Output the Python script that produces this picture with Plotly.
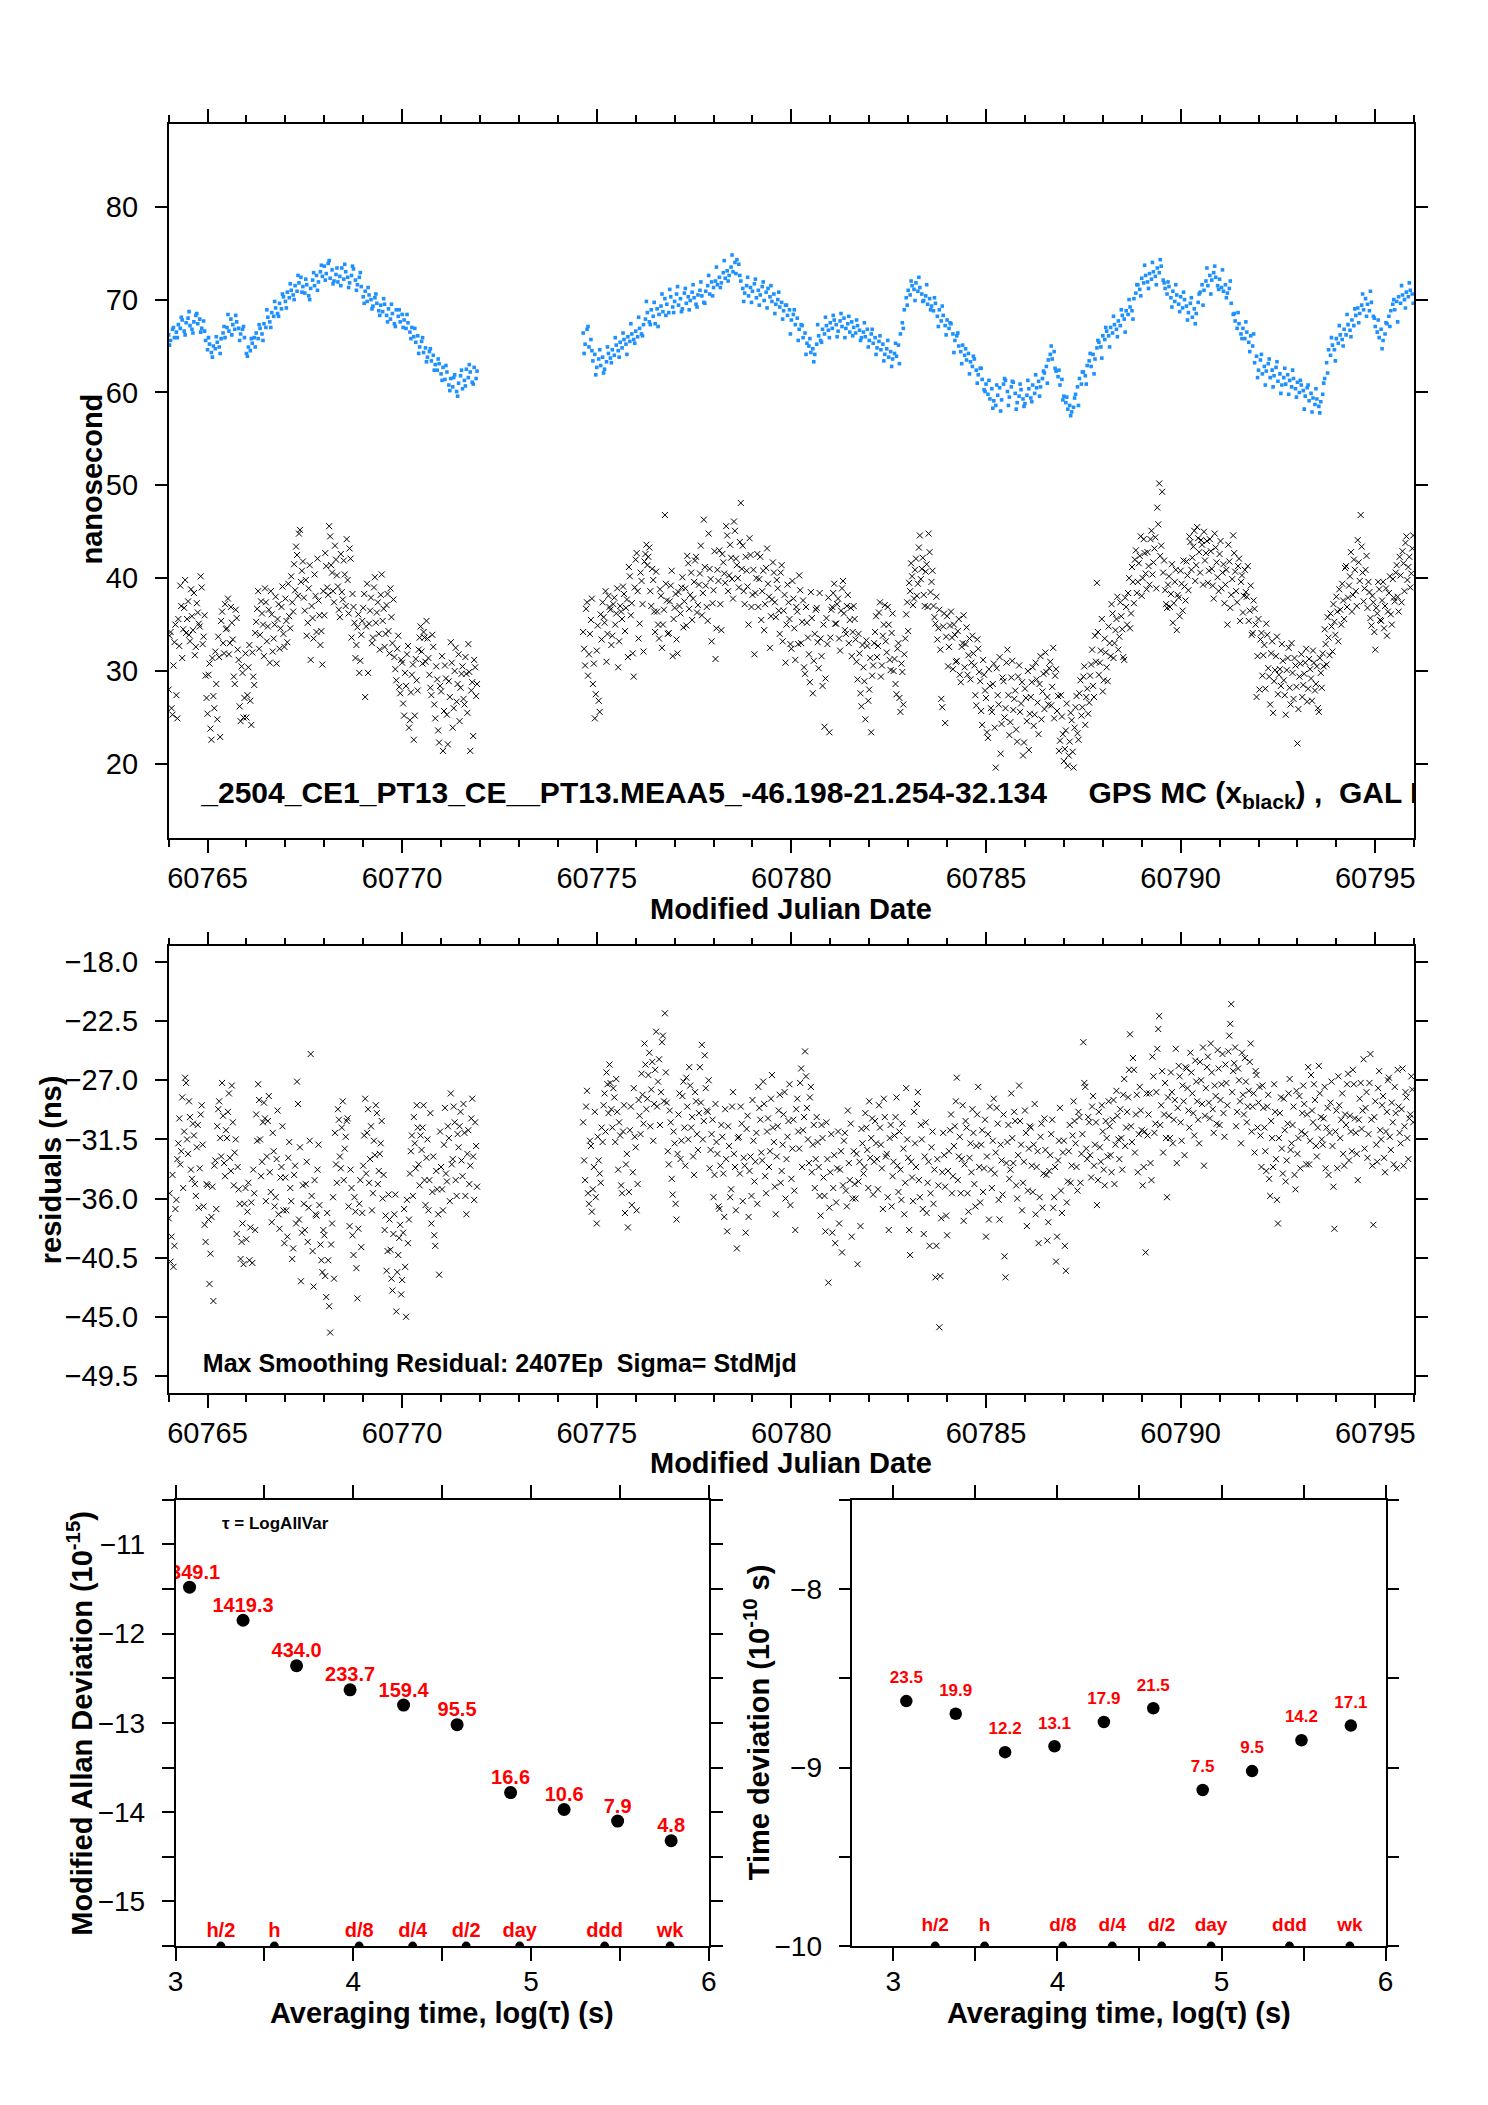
import numpy as np
import plotly.graph_objects as go

FONT = "Liberation Sans, Arial, Helvetica, sans-serif"

# ---------------- data: time series (MJD sampled on a regular grid) ----------------
STEP = 0.05          # main sampling interval (days)
STEP_B2 = 0.10       # interval of the second blue pass
OFFSET2 = 0.025      # second pass epochs are shifted by this (days)
SEG1_START = 60764.00
SEG2_START = 60774.65

gps_blue_seg1 = [
    66.2, 65.6, 66.8, 65.9, 66.5, 67.3, 66.9, 67.8, 66.6, 67.5,
    68.0, 67.2, 66.8, 67.6, 68.3, 67.4, 67.9, 66.9, 67.7, 65.6,
    64.6, 65.2, 64.3, 65.0, 64.7, 65.4, 64.9, 65.8, 66.4, 65.9,
    67.0, 66.6, 67.9, 67.3, 66.8, 67.6, 66.9, 66.3, 66.8, 65.9,
    64.2, 64.9, 64.5, 65.3, 65.9, 66.4, 65.8, 66.9, 66.3, 67.4,
    67.0, 68.1, 67.6, 68.6, 68.2, 69.1, 68.5, 69.6, 69.0, 70.3,
    69.8, 70.8, 70.2, 71.0, 70.5, 71.5, 70.9, 71.8, 72.4, 71.4,
    70.7, 71.6, 70.4, 71.2, 72.1, 71.5, 72.6, 71.9, 73.0, 72.5,
    73.6, 72.8, 73.9, 72.3, 73.2, 72.0, 72.7, 71.9, 72.5, 73.4,
    72.2, 73.0, 72.4, 71.8, 72.6, 73.3, 72.1, 71.6, 72.4, 71.4,
    70.3, 70.9, 69.8, 70.5, 70.0, 69.3, 70.2, 69.6, 68.8, 69.4,
    68.7, 69.5, 68.3, 69.0, 67.9, 68.5, 67.4, 68.9, 68.2, 67.6,
    68.4, 67.8, 66.9, 67.5, 66.5, 67.0, 66.0, 65.4, 66.1, 64.9,
    65.5, 64.3, 64.8, 63.8, 64.4, 63.4, 64.0, 63.0, 62.4, 63.1,
    62.0, 62.7, 61.4, 62.2, 60.8, 61.5, 60.6, 61.9, 60.1, 61.0,
    61.8, 60.4, 61.3, 62.5, 61.6, 62.2, 61.1, 62.7, 61.5,
]
gps_blue_seg2 = [
    66.4, 65.2, 66.8, 64.9, 65.7, 63.4, 64.1, 62.7, 63.6, 62.9,
    63.8, 62.5, 63.3, 64.2, 63.7, 64.6, 64.0, 65.1, 64.5, 65.4,
    64.8, 65.7, 65.2, 66.0, 65.5, 66.3, 65.7, 66.6, 66.0, 66.9,
    66.3, 67.3, 67.9, 68.6, 67.6, 68.9, 68.2, 67.4, 69.0, 68.4,
    69.3, 68.7, 70.1, 69.5, 68.6, 70.3, 69.2, 69.8, 70.6, 69.4,
    70.1, 69.0, 70.7, 69.6, 70.3, 69.9, 70.8, 70.2, 69.5, 70.5,
    71.0, 70.4, 69.7, 70.9, 71.5, 70.6, 71.9, 71.3, 72.0, 71.6,
    72.4, 71.8, 72.9, 72.3, 73.1, 72.6, 73.5, 73.0, 74.0, 74.3,
    73.8, 72.0, 71.2, 70.7, 71.5, 70.4, 71.3, 70.9, 71.7, 70.2,
    71.0, 70.5, 71.4, 69.9, 70.8, 71.2, 70.3, 69.8, 70.6, 69.5,
    70.0, 69.2, 69.7, 68.8, 69.4, 68.3, 68.9, 67.8, 68.4, 67.3,
    68.0, 66.8, 67.3, 65.9, 66.4, 65.3, 65.0, 64.3, 64.7, 64.1,
    65.2, 66.1, 65.6, 66.8, 66.3, 67.2, 66.7, 67.5, 66.9, 67.8,
    67.3, 66.6, 67.7, 67.1, 68.0, 66.9, 67.4, 66.5, 67.6, 67.0,
    66.4, 67.2, 66.7, 65.9, 66.5, 66.0, 66.8, 65.6, 66.3, 65.3,
    65.9, 64.8, 65.5, 64.6, 65.2, 64.1, 64.7, 63.8, 64.4, 63.6,
    64.2, 63.9, 65.1, 66.3, 67.5, 68.9, 70.2, 71.0, 70.5, 71.5,
    71.1, 71.8, 70.9, 71.3, 70.6, 69.9, 70.4, 69.5, 70.1, 69.3,
    68.8, 69.6, 68.2, 68.9, 67.7, 68.3, 67.2, 67.8, 66.9, 67.4,
    66.3, 65.6, 66.1, 65.0, 64.4, 65.1, 64.0, 63.5, 64.2, 63.3,
    62.8, 63.6, 62.4, 61.9, 62.6, 61.4, 60.3, 60.9, 59.8, 59.3,
    60.4, 59.1, 58.6, 59.7, 60.5, 59.2, 60.9, 61.3, 60.1, 59.5,
    60.6, 61.1, 59.9, 58.9, 59.6, 60.3, 59.3, 58.8, 59.7, 60.4,
    59.4, 60.8, 59.9, 60.5, 61.2, 60.6, 61.5, 62.1, 62.8, 63.5,
    64.1, 63.6, 64.4, 62.3, 61.7, 60.8, 61.4, 59.6, 58.9, 58.2,
    58.6, 57.9, 58.4, 59.8, 60.6, 61.5, 60.9, 62.2, 61.8, 62.9,
    63.4, 62.8, 64.1, 63.6, 64.8, 65.4, 64.9, 66.1, 65.7, 66.6,
    66.1, 67.0, 66.4, 67.3, 66.8, 67.7, 67.2, 68.3, 67.9, 68.8,
    68.4, 69.2, 68.8, 70.1, 70.7, 71.6, 71.1, 72.3, 71.8, 72.6,
    71.9, 72.8, 72.2, 73.0, 72.5, 73.4, 72.9, 73.6, 72.1, 71.2,
    70.6, 71.4, 70.2, 70.9, 69.8, 70.5, 69.5, 70.3, 69.1, 70.0,
    69.3, 68.6, 69.6, 68.1, 69.0, 68.5, 69.7, 70.8, 71.6, 71.0,
    72.0, 71.5, 72.6, 72.1, 72.9, 72.4, 71.5, 72.2, 71.3, 70.9,
    71.6, 70.7, 71.2, 69.6, 68.4, 67.7, 66.9, 67.4, 66.3, 66.9,
    65.8, 66.5, 65.4, 66.1, 65.0, 63.2, 63.9, 62.4, 63.5, 62.0,
    62.8, 62.3, 63.1, 61.6, 62.4, 61.8, 62.7, 61.2, 62.0, 60.8,
    61.6, 60.9, 61.9, 61.3, 60.6, 61.5, 60.4, 61.1, 60.0, 60.8,
    60.2, 59.6, 60.5, 59.1, 59.9, 59.4, 58.7, 59.3, 58.5, 59.0,
    59.8, 61.5, 63.2, 64.6, 64.0, 65.1, 64.6, 65.8, 65.3, 66.2,
    65.7, 66.8, 66.2, 67.3, 66.7, 67.8, 67.2, 68.3, 69.1, 68.5,
    69.4, 68.9, 70.1, 69.5, 68.8, 69.7, 68.2, 67.1, 66.5, 65.9,
    66.8, 65.6, 66.3, 67.4, 68.2, 68.8, 69.5, 68.9, 69.8, 70.3,
    69.6, 70.5, 70.0, 70.8, 70.3, 71.0, 70.6,
]
gps_blue2_seg1 = [
    65.1, 67.0, 65.9, 68.1, 66.2, 68.7, 66.4, 68.5, 66.5, 66.6,
    65.9, 63.8, 66.0, 64.2, 67.1, 68.4, 66.2, 68.3, 65.6, 67.1,
    63.9, 65.8, 64.9, 67.3, 65.6, 68.9, 67.0, 69.8, 68.2, 70.6,
    69.1, 71.7, 70.0, 72.6, 70.8, 72.2, 70.0, 72.9, 71.0, 73.7,
    72.1, 74.2, 71.7, 73.4, 71.5, 73.8, 71.3, 73.6, 71.0, 72.9,
    69.6, 71.3, 69.0, 70.6, 68.3, 70.1, 67.6, 69.5, 67.1, 68.9,
    67.0, 68.4, 65.8, 66.9, 64.2, 65.9, 63.3, 64.7, 62.4, 63.6,
    61.3, 62.9, 60.2, 61.6, 59.6, 62.4, 60.7, 63.0, 60.9, 62.3,
]
gps_blue2_seg2 = [
    64.2, 67.1, 64.5, 61.9, 64.6, 62.1, 64.9, 63.2, 65.9, 63.8,
    66.4, 64.1, 67.4, 65.3, 68.1, 66.1, 69.8, 67.3, 69.7, 67.1,
    70.6, 68.3, 71.1, 68.6, 71.4, 68.7, 71.2, 68.9, 71.6, 69.2,
    71.9, 69.6, 72.6, 70.4, 73.5, 71.3, 74.2, 72.0, 74.8, 72.8,
    72.6, 69.8, 72.4, 69.7, 72.2, 69.4, 71.9, 69.1, 71.5, 68.5,
    70.8, 67.9, 69.4, 66.3, 68.9, 65.6, 67.2, 64.1, 65.8, 63.3,
    67.3, 65.4, 68.1, 65.9, 68.3, 66.0, 68.5, 65.9, 68.2, 66.1,
    67.8, 65.6, 67.5, 64.9, 66.8, 64.1, 66.1, 63.4, 65.6, 62.8,
    65.3, 63.1, 66.9, 69.4, 72.0, 69.9, 72.4, 69.8, 71.6, 68.9,
    70.2, 67.1, 69.3, 66.2, 67.5, 64.3, 66.4, 63.1, 64.7, 62.0,
    63.9, 61.0, 62.6, 60.1, 61.3, 58.3, 60.8, 58.0, 61.5, 58.6,
    61.2, 58.2, 60.9, 58.5, 61.3, 59.0, 61.9, 59.6, 62.3, 61.0,
    65.0, 62.6, 62.4, 59.2, 59.5, 57.5, 59.4, 58.6, 62.2, 60.9,
    64.2, 62.0, 65.6, 63.7, 67.0, 64.9, 68.2, 66.0, 68.9, 66.5,
    70.0, 67.9, 71.6, 70.4, 73.7, 71.2, 74.0, 71.6, 74.3, 71.8,
    71.9, 69.2, 71.6, 68.7, 70.8, 67.8, 70.2, 67.4, 70.6, 69.4,
    73.4, 70.6, 73.6, 71.1, 73.2, 70.2, 72.0, 68.5, 68.6, 65.8,
    67.6, 64.4, 66.3, 61.6, 64.1, 60.8, 63.6, 60.6, 63.3, 59.9,
    62.6, 59.8, 62.4, 59.5, 61.3, 58.2, 60.8, 57.9, 60.4, 57.8,
    61.0, 62.1, 65.9, 63.4, 67.2, 65.0, 68.4, 66.0, 69.0, 67.5,
    70.6, 68.2, 70.9, 68.0, 67.8, 64.7, 67.5, 67.1, 70.0, 67.6,
    71.5, 69.1, 71.8, 69.6,
]
gps_black_seg1 = [
    28.0, 34.2, 25.3, 33.1, 27.4, 35.6, 39.2, 31.4, 36.8, 34.1,
    37.5, 33.2, 35.9, 38.4, 32.6, 36.3, 34.8, 39.0, 33.7, 29.5,
    25.4, 30.8, 22.6, 27.3, 32.1, 24.8, 31.5, 35.4, 33.0, 37.2,
    34.6, 31.8, 36.9, 33.4, 28.6, 35.7, 31.2, 24.6, 29.8, 27.1,
    25.0, 30.4, 26.8, 32.0, 28.5, 35.3, 38.6, 33.9, 36.2, 31.6,
    37.4, 34.8, 30.9, 36.1, 33.5, 38.0, 35.6, 32.4, 36.9, 34.0,
    37.8, 33.1, 35.9, 40.2, 36.4, 38.7, 42.5, 44.8, 39.6, 41.8,
    36.5, 33.8, 38.9, 31.2, 35.7, 40.4, 34.2, 37.6, 32.8, 30.7,
    36.0, 41.3, 38.2, 44.5, 40.6, 37.4, 42.0, 39.1, 35.8, 38.5,
    41.9, 37.0, 39.8, 43.2, 33.6, 36.9, 31.4, 34.7, 29.8, 33.9,
    36.8, 27.2, 39.4, 35.1, 37.9, 33.6, 40.1, 36.3, 34.0, 38.2,
    35.4, 32.6, 37.1, 34.3, 38.9, 33.0, 31.5, 29.0, 33.8, 27.6,
    30.9, 25.2, 28.4, 32.7, 24.7, 29.6, 22.6, 31.3, 27.9, 33.6,
    32.1, 34.2, 31.0, 33.5, 29.6, 27.4, 32.6, 24.9, 29.1, 22.3,
    27.8, 21.4, 30.6, 25.3, 28.9, 33.1, 23.9, 30.0, 26.7, 31.8,
    28.2, 30.5, 26.4, 29.7, 32.9, 21.4, 28.8, 31.2, 27.3,
]
gps_black_seg2 = [
    34.2, 30.6, 37.4, 31.8, 35.5, 28.6, 24.9, 32.2, 26.8, 36.1,
    37.4, 35.2, 31.0, 38.1, 36.6, 33.8, 37.9, 36.2, 30.4, 37.0,
    35.6, 38.3, 36.8, 31.5, 40.2, 37.3, 29.4, 42.0, 38.6, 35.1,
    39.7, 32.1, 42.6, 41.4, 43.3, 37.0, 39.8, 34.2, 36.4, 33.5,
    38.1, 35.0, 46.8, 37.6, 34.1, 39.2, 31.6, 36.8, 33.4, 38.5,
    36.2, 40.1, 37.5, 34.9, 41.6, 38.2, 35.5, 39.6, 42.3, 37.1,
    40.5, 36.0, 46.3, 39.2, 35.4, 41.0, 33.2, 38.7, 31.3, 40.9,
    43.0, 34.4, 41.7, 39.5, 44.6, 40.3, 42.2, 37.8, 45.1, 41.4,
    39.0, 48.1, 43.5, 37.2, 40.8, 35.0, 42.5, 38.2, 31.8, 40.0,
    36.9, 42.3, 38.6, 34.4, 41.1, 39.4, 32.5, 37.7, 40.6, 35.8,
    38.9, 34.0, 41.4, 36.5, 30.9, 39.3, 35.6, 32.4, 37.8, 31.2,
    36.4, 40.3, 33.0, 37.6, 29.7, 35.2, 31.8, 38.5, 27.6, 34.0,
    36.8, 30.3, 33.5, 28.4, 24.0, 35.7, 37.9, 33.6, 36.9, 39.4,
    35.1, 37.8, 32.2, 38.9, 36.2, 34.0, 38.2, 35.5, 31.6, 37.0,
    33.4, 29.1, 31.9, 26.2, 30.4, 24.8, 32.7, 28.0, 23.4, 30.6,
    34.2, 31.5, 36.3, 29.4, 33.8, 37.1, 32.0, 35.0, 30.1, 36.2,
    31.3, 27.5, 33.0, 25.6, 29.9, 31.8, 36.1, 34.3, 38.6, 40.2,
    37.8, 42.1, 39.4, 44.6, 41.0, 38.2, 40.7, 36.9, 42.8, 39.6,
    37.0, 35.1, 33.4, 36.6, 27.0, 34.8, 24.4, 35.9, 32.6, 36.4,
    30.2, 33.9, 31.1, 35.6, 28.8, 33.0, 30.4, 34.7, 31.7, 29.1,
    33.8, 30.6, 26.3, 32.4, 28.9, 24.2, 29.6, 27.1, 22.8, 28.4,
    25.6, 30.8, 19.6, 27.4, 31.5, 24.3, 28.9, 26.0, 32.3, 23.1,
    29.3, 25.8, 27.9, 22.4, 30.6, 26.5, 20.9, 28.1, 24.6, 21.5,
    27.2, 30.4, 25.3, 29.1, 23.2, 31.6, 27.8, 25.9, 29.9, 26.4,
    31.0, 28.3, 24.9, 30.2, 27.3, 22.5, 25.1, 20.3, 23.6, 19.8,
    22.4, 24.7, 19.6, 26.1, 23.3, 27.6, 25.2, 29.4, 24.2, 28.1,
    26.6, 30.7, 28.4, 33.8, 39.5, 29.6, 32.2, 27.8, 33.5, 30.4,
    34.8, 31.6, 36.2, 33.0, 35.6, 32.3, 37.4, 34.5, 31.2, 36.9,
    38.4, 34.6, 41.2, 37.3, 43.0, 39.6, 42.4, 38.1, 44.2, 40.5,
    42.8, 39.3, 45.1, 41.7, 44.4, 47.6, 50.2, 43.5, 40.6, 38.7,
    36.8, 40.2, 38.3, 35.2, 39.6, 34.4, 37.9, 40.8, 36.5, 39.1,
    41.8, 38.7, 43.9, 42.2, 45.1, 41.4, 44.3, 40.6, 43.6, 45.0,
    42.7, 39.5, 44.2, 41.0, 37.8, 43.3, 40.1, 42.6, 38.9, 41.5,
    39.3, 35.0, 41.8, 38.2, 44.6, 40.7, 37.4, 42.1, 39.6, 36.3,
    40.9, 38.0, 35.4, 39.2, 34.1, 36.7, 27.2, 35.6, 33.4, 29.5,
    32.8, 35.1, 30.3, 26.4, 33.2, 28.9, 31.6, 27.5, 30.2, 32.9,
    29.0, 25.3, 31.4, 28.2, 33.0, 27.0, 30.6, 22.2, 29.4, 31.8,
    28.5, 30.9, 26.7, 31.3, 29.2, 32.2, 27.9, 30.5, 25.6, 29.8,
    31.9, 34.5, 30.7, 33.6, 36.2, 32.1, 35.3, 38.0, 33.2, 36.6,
    39.4, 35.6, 41.3, 37.9, 40.2, 36.4, 42.0, 38.6, 44.1, 39.7,
    43.4, 37.5, 40.9, 36.8, 38.5, 34.9, 37.4, 32.3, 36.2, 38.8,
    35.4, 39.6, 37.0, 33.8, 38.4, 36.1, 39.9, 37.5, 41.4, 36.4,
    40.3, 42.9, 38.6, 44.5, 41.2, 39.0, 43.2,
]
gps_black2_seg1 = [
    33.8, 26.0, 30.6, 35.0, 24.9, 32.7, 37.0, 34.5, 39.8, 35.6,
    33.9, 38.8, 34.4, 31.7, 37.3, 35.1, 40.2, 32.9, 36.0, 27.1,
    29.6, 23.8, 31.4, 26.0, 28.6, 33.7, 22.9, 36.4, 31.9, 34.5,
    37.8, 33.0, 35.2, 29.4, 36.6, 32.3, 26.2, 30.5, 25.0, 31.9,
    27.4, 32.8, 24.2, 29.4, 34.1, 36.7, 32.4, 37.5, 35.0, 38.9,
    33.2, 36.6, 38.6, 32.1, 35.0, 30.8, 37.2, 34.6, 39.1, 32.6,
    35.4, 39.4, 34.6, 37.4, 41.5, 43.4, 38.1, 45.2, 40.8, 37.9,
    39.8, 35.2, 41.4, 37.0, 33.5, 38.1, 42.1, 36.0, 34.3, 38.6,
    42.7, 39.0, 45.6, 41.4, 38.6, 43.5, 40.3, 36.6, 42.6, 37.7,
    40.4, 44.2, 36.2, 42.1, 38.3, 35.2, 32.8, 36.1, 31.1, 35.4,
    38.3, 34.8, 29.8, 36.5, 33.0, 39.0, 35.2, 37.4, 32.3, 40.4,
    36.7, 34.0, 38.3, 31.9, 35.8, 37.7, 30.2, 32.4, 28.3, 31.2,
    26.5, 29.8, 31.8, 23.9, 27.7, 30.7, 25.2, 29.0, 32.3, 34.8,
    30.8, 33.6, 35.4, 31.4, 28.2, 33.9, 26.4, 30.5, 23.6, 28.4,
    31.6, 25.7, 29.2, 22.1, 27.2, 30.9, 26.0, 32.5, 28.6, 24.6,
    29.7, 27.0, 31.5, 25.5, 29.9, 27.9, 23.0, 30.4, 28.6,
]
gps_black2_seg2 = [
    32.4, 36.7, 29.5, 34.0, 37.8, 30.8, 27.5, 34.9, 25.6, 33.4,
    35.8, 38.6, 34.0, 36.9, 32.8, 37.2, 35.0, 38.9, 33.2, 36.4,
    39.1, 34.3, 37.7, 41.2, 36.0, 31.9, 39.0, 42.7, 33.5, 40.6,
    37.2, 41.8, 43.6, 42.3, 38.6, 41.0, 36.4, 40.7, 35.0, 38.8,
    32.5, 36.6, 39.4, 34.0, 37.5, 40.8, 35.6, 38.3, 31.9, 37.0,
    39.0, 34.7, 38.9, 42.4, 36.7, 40.6, 37.8, 41.9, 36.3, 39.3,
    43.5, 38.4, 41.2, 36.9, 44.8, 39.9, 37.3, 42.9, 34.6, 39.7,
    37.2, 42.6, 40.5, 45.6, 38.6, 43.6, 39.9, 46.1, 42.1, 40.0,
    43.9, 41.0, 38.6, 42.3, 39.1, 44.3, 36.9, 40.9, 38.4, 42.6,
    39.9, 35.5, 40.8, 37.2, 43.2, 38.0, 35.9, 41.7, 37.4, 39.8,
    36.5, 40.6, 33.2, 38.2, 35.0, 37.4, 32.9, 39.7, 34.6, 36.9,
    32.9, 38.7, 35.3, 30.4, 36.9, 33.6, 28.8, 35.7, 31.1, 36.6,
    33.1, 38.4, 31.6, 35.0, 29.2, 32.9, 23.4, 36.6, 38.4, 35.1,
    37.2, 33.5, 36.5, 39.7, 34.4, 37.0, 33.0, 36.8, 34.2, 35.6,
    31.0, 34.0, 27.6, 32.8, 28.9, 33.3, 26.8, 31.4, 29.5, 33.0,
    35.9, 32.7, 37.4, 30.6, 35.0, 33.2, 36.9, 31.2, 34.1, 30.0,
    28.6, 32.4, 27.1, 30.8, 26.4, 33.5, 37.4, 39.5, 41.6, 37.1,
    40.9, 38.1, 43.3, 39.9, 42.2, 37.0, 41.5, 44.8, 38.5, 40.8,
    35.8, 38.0, 34.6, 32.3, 26.1, 36.2, 33.7, 30.5, 34.9, 33.6,
    35.0, 31.0, 34.3, 29.6, 32.6, 36.0, 32.9, 29.6, 33.5, 30.9,
    31.9, 27.4, 33.4, 29.9, 25.7, 31.2, 27.9, 23.4, 30.2, 26.0,
    28.6, 23.9, 30.3, 26.4, 21.1, 29.3, 25.0, 30.9, 27.4, 24.5,
    31.1, 27.0, 23.7, 29.4, 25.6, 28.8, 22.3, 27.1, 30.0, 25.4,
    28.8, 24.1, 30.9, 26.6, 28.6, 24.8, 29.7, 32.0, 27.2, 30.3,
    26.3, 32.5, 29.5, 25.7, 21.4, 27.4, 23.2, 21.6, 26.5, 20.9,
    25.5, 21.3, 23.9, 27.3, 22.6, 29.0, 26.1, 30.5, 27.2, 25.4,
    29.5, 32.3, 27.2, 31.0, 34.2, 30.9, 35.6, 29.0, 32.0, 28.9,
    33.0, 37.2, 31.4, 34.4, 38.0, 33.7, 35.9, 31.5, 37.9, 35.0,
    40.0, 36.2, 39.6, 42.0, 38.4, 41.6, 44.5, 40.0, 42.7, 38.8,
    41.3, 44.2, 40.4, 43.2, 38.9, 45.8, 42.4, 49.3, 41.9, 37.2,
    39.3, 36.9, 41.5, 37.3, 40.9, 38.2, 35.9, 39.4, 41.9, 37.6,
    40.3, 44.5, 40.9, 43.4, 39.7, 45.5, 42.8, 44.1, 39.3, 41.9,
    44.0, 40.8, 42.9, 39.2, 44.8, 41.7, 38.6, 44.0, 40.6, 37.3,
    40.9, 43.6, 36.8, 39.9, 42.7, 38.6, 41.3, 35.4, 40.3, 38.1,
    38.5, 41.3, 36.5, 33.9, 37.6, 35.0, 31.6, 28.0, 34.1, 31.7,
    28.1, 33.9, 29.4, 31.9, 25.5, 30.1, 33.7, 29.6, 28.4, 31.1,
    27.4, 30.1, 32.5, 26.4, 29.8, 31.4, 28.3, 25.9, 30.8, 27.2,
    29.7, 32.4, 28.1, 30.2, 26.8, 30.9, 28.6, 26.0, 31.4, 28.2,
    30.5, 32.9, 35.8, 31.7, 34.8, 37.2, 33.9, 36.4, 38.8, 35.0,
    37.6, 41.1, 36.9, 39.2, 42.8, 38.2, 40.9, 37.0, 41.7, 46.8,
    40.6, 38.9, 42.4, 39.6, 35.7, 38.1, 34.2, 36.8, 39.6, 35.5,
    37.6, 34.6, 38.9, 36.4, 40.2, 35.0, 37.9, 40.6, 38.0, 42.3,
    37.4, 41.6, 43.8, 39.8, 42.3, 40.5, 44.6,
]
resid_seg1 = [
    -37.5, -40.8, -34.2, -39.6, -36.1, -31.8, -33.4, -28.3, -30.9, -27.2,
    -32.6, -29.8, -34.5, -31.2, -35.8, -30.4, -33.7, -28.9, -36.6, -39.3,
    -35.0, -42.5, -37.4, -43.8, -33.1, -30.5, -28.6, -32.8, -29.7, -34.3,
    -31.4, -28.0, -33.9, -30.2, -32.5, -38.7, -35.3, -40.6, -37.9, -36.4,
    -39.1, -34.8, -38.2, -40.9, -35.6, -29.6, -27.3, -31.5, -33.2, -28.7,
    -36.2, -30.1, -34.0, -37.8, -32.4, -35.9, -29.3, -38.3, -33.6, -36.9,
    -34.4, -38.9, -31.7, -36.2, -39.8, -33.5, -27.1, -37.6, -42.3, -35.0,
    -38.4, -33.2, -36.7, -25.0, -40.0, -34.6, -37.3, -31.9, -39.5, -41.6,
    -38.8, -43.5, -40.7, -46.2, -37.9, -42.1, -33.4, -29.2, -32.8, -30.6,
    -34.6, -31.3, -29.9, -38.1, -35.2, -40.3, -37.0, -43.6, -36.4, -39.7,
    -33.5, -28.4, -31.0, -34.8, -30.5, -35.6, -32.7, -29.5, -33.9, -31.8,
    -36.0, -38.4, -41.5, -35.7, -39.9, -43.0, -37.2, -44.6, -40.3, -38.0,
    -42.2, -36.8, -45.0, -39.4, -34.1, -31.2, -29.8, -33.7, -30.6, -35.0,
    -32.3, -28.9, -36.5, -31.5, -34.6, -37.9, -32.8, -39.6, -35.3, -41.8,
    -33.6, -36.9, -29.1, -34.7, -31.4, -28.0, -33.0, -30.2, -35.8, -32.1,
    -29.4, -34.3, -31.0, -37.2, -30.8, -33.5, -28.4, -36.1, -32.0,
]
resid_seg2 = [
    -30.2, -34.6, -27.8, -36.4, -32.0, -35.3, -29.4, -37.9, -33.1, -34.8,
    -31.7, -28.0, -26.4, -29.5, -27.2, -30.6, -28.3, -26.9, -33.8, -31.2,
    -35.6, -28.9, -33.4, -38.2, -30.8, -36.5, -27.6, -32.1, -34.9, -29.7,
    -26.5, -30.3, -25.8, -28.4, -24.9, -27.7, -31.6, -26.2, -29.0, -25.4,
    -27.9, -23.6, -21.9, -28.7, -33.4, -30.2, -35.7, -31.8, -37.6, -29.6,
    -33.0, -28.2, -30.6, -26.8, -31.5, -27.4, -29.8, -34.2, -28.6, -32.3,
    -26.0, -24.3, -30.1, -27.6, -29.4, -33.7, -31.1, -35.9, -28.8, -32.6,
    -36.8, -30.4, -34.1, -29.2, -38.5, -32.0, -35.3, -27.9, -33.6, -39.8,
    -31.3, -29.0, -36.2, -33.5, -30.7, -37.4, -32.8, -28.5, -34.7, -31.0,
    -27.5, -30.0, -33.1, -28.8, -35.6, -29.9, -32.4, -26.6, -31.7, -37.2,
    -30.5, -28.1, -33.9, -29.6, -36.0, -31.3, -27.3, -34.5, -30.0, -38.4,
    -28.4, -32.2, -26.1, -30.8, -24.8, -29.1, -33.3, -27.5, -31.9, -35.2,
    -29.8, -33.6, -37.3, -31.4, -35.8, -30.2, -42.4, -34.0, -38.6, -32.7,
    -36.3, -30.9, -33.8, -40.1, -31.6, -35.4, -29.3, -34.6, -38.9, -32.4,
    -36.0, -41.0, -33.2, -30.7, -34.1, -29.5, -32.3, -28.6, -31.4, -35.7,
    -30.1, -33.0, -28.9, -31.9, -36.8, -29.8, -32.6, -38.4, -30.4, -34.3,
    -31.2, -28.3, -35.5, -33.8, -30.3, -37.2, -27.6, -32.9, -40.3, -34.4,
    -29.4, -33.6, -27.9, -35.9, -31.5, -38.7, -30.2, -34.8, -39.6, -32.1,
    -36.4, -42.0, -33.0, -45.8, -37.5, -31.0, -35.1, -38.8, -32.4, -29.6,
    -34.3, -30.5, -26.8, -32.8, -35.6, -28.9, -33.4, -30.6, -37.0, -31.8,
    -29.2, -34.9, -32.0, -27.5, -36.3, -30.8, -33.7, -38.9, -31.1, -29.0,
    -35.2, -28.4, -32.5, -30.3, -37.6, -33.1, -29.6, -42.0, -31.7, -34.5,
    -28.0, -33.3, -30.1, -36.0, -27.4, -31.9, -34.8, -29.3, -38.1, -32.2,
    -30.6, -35.5, -28.8, -33.6, -39.4, -31.3, -36.7, -29.9, -34.2, -37.8,
    -32.7, -30.0, -35.9, -40.8, -33.1, -29.1, -37.1, -31.6, -41.5, -34.7,
    -30.4, -33.5, -28.6, -31.8, -35.4, -29.8, -32.6, -24.1, -27.5, -33.0,
    -30.2, -34.4, -28.2, -31.9, -36.5, -29.4, -33.2, -30.9, -35.0, -31.4,
    -28.6, -32.7, -30.0, -34.9, -27.8, -31.5, -29.2, -33.8, -26.9, -30.6,
    -28.3, -23.5, -31.7, -26.2, -29.6, -34.0, -27.5, -30.8, -33.6, -40.1,
    -31.2, -28.0, -34.6, -26.7, -30.3, -24.6, -22.1, -28.9, -32.5, -27.2,
    -35.9, -29.7, -26.4, -31.8, -28.5, -33.3, -25.9, -30.2, -27.4, -32.7,
    -26.1, -29.3, -24.9, -28.0, -31.2, -27.1, -30.0, -25.6, -28.8, -33.5,
    -27.6, -25.2, -29.9, -26.4, -31.0, -28.2, -24.7, -30.4, -27.3, -29.5,
    -25.8, -28.9, -23.6, -21.2, -26.3, -24.5, -29.4, -27.0, -31.8, -28.1,
    -25.3, -30.2, -27.8, -24.2, -29.0, -32.5, -26.6, -28.7, -31.2, -27.4,
    -30.6, -33.9, -28.1, -35.8, -31.4, -27.3, -33.0, -37.9, -29.5, -32.2,
    -28.4, -34.7, -30.3, -26.9, -31.8, -29.0, -35.3, -32.6, -28.2, -30.9,
    -27.4, -31.1, -29.6, -33.4, -26.6, -30.2, -28.5, -32.8, -25.9, -29.8,
    -31.9, -27.5, -30.6, -34.2, -28.7, -32.0, -38.3, -29.3, -26.7, -31.4,
    -28.0, -33.5, -30.4, -26.5, -29.7, -32.4, -27.3, -31.0, -34.6, -28.4,
    -30.7, -25.4, -29.1, -32.9, -27.2, -30.0, -38.0, -28.6, -33.2, -26.3,
    -31.5, -28.2, -34.0, -29.4, -26.8, -32.3, -30.2, -27.5, -33.7, -29.0,
    -31.8, -26.1, -30.5, -28.3, -33.0, -29.6, -27.7,
]
resid2_seg1 = [
    -35.6, -38.9, -41.2, -36.8, -33.0, -29.9, -32.4, -35.2, -26.8, -31.5,
    -28.6, -33.8, -30.3, -34.9, -32.1, -36.7, -29.6, -31.9, -38.0, -34.9,
    -37.6, -40.2, -35.1, -33.5, -36.8, -29.2, -31.4, -27.2, -33.3, -30.8,
    -29.4, -32.9, -27.4, -35.0, -31.5, -33.6, -36.4, -39.3, -41.0, -35.2,
    -37.0, -40.7, -36.3, -33.8, -38.4, -31.6, -28.5, -34.3, -30.2, -29.9,
    -32.8, -28.2, -35.5, -31.0, -36.6, -33.0, -37.2, -34.4, -30.5, -39.4,
    -36.9, -32.9, -35.2, -40.6, -34.2, -37.9, -28.8, -32.1, -38.6, -36.4,
    -34.9, -39.3, -31.6, -35.8, -42.7, -37.2, -33.8, -36.5, -40.7, -38.4,
    -41.9, -37.1, -44.2, -39.5, -35.9, -31.0, -34.8, -30.0, -33.7, -28.6,
    -32.2, -30.1, -36.6, -33.8, -38.8, -35.9, -41.3, -38.3, -34.6, -37.1,
    -31.2, -34.1, -29.2, -33.0, -36.9, -31.6, -28.9, -34.9, -32.6, -30.1,
    -34.2, -37.3, -40.0, -37.6, -42.1, -38.7, -35.7, -41.6, -39.0, -43.3,
    -38.6, -41.2, -36.1, -37.6, -32.4, -35.8, -31.8, -28.9, -33.4, -31.2,
    -30.6, -34.6, -32.9, -36.9, -29.5, -35.5, -38.8, -33.9, -37.2, -30.9,
    -35.3, -31.9, -34.1, -30.5, -36.2, -33.4, -29.0, -34.6, -31.1, -30.5,
    -33.1, -28.8, -35.8, -32.6, -34.9, -29.9, -32.8, -30.2, -35.1,
]
resid2_seg2 = [
    -33.1, -29.0, -35.6, -31.6, -37.0, -33.6, -35.9, -31.3, -34.1, -30.6,
    -28.9, -30.9, -27.3, -25.8, -29.2, -27.6, -31.7, -29.4, -30.2, -35.0,
    -30.9, -37.1, -32.6, -35.5, -29.0, -34.0, -31.3, -36.9, -28.5, -31.1,
    -28.1, -24.2, -29.2, -26.6, -30.5, -25.6, -28.8, -23.3, -27.1, -30.4,
    -24.1, -28.6, -26.4, -32.4, -29.3, -34.5, -30.9, -36.4, -32.6, -28.0,
    -31.6, -27.1, -33.5, -29.0, -26.0, -30.6, -32.8, -27.9, -31.1, -29.5,
    -28.7, -31.5, -25.1, -29.3, -27.0, -32.3, -30.0, -34.2, -31.7, -36.6,
    -33.5, -31.3, -37.4, -33.0, -30.5, -35.9, -29.0, -32.6, -36.9, -31.4,
    -34.1, -30.3, -32.9, -38.6, -29.7, -33.9, -35.8, -31.6, -33.2, -36.4,
    -29.1, -32.5, -27.1, -34.3, -30.9, -33.6, -28.4, -30.6, -35.1, -32.8,
    -29.3, -34.8, -31.9, -27.9, -33.0, -30.1, -36.5, -32.2, -35.4, -29.2,
    -30.9, -27.2, -33.6, -29.8, -26.7, -31.5, -28.3, -34.0, -30.4, -33.0,
    -31.7, -35.8, -30.4, -34.4, -38.5, -33.0, -36.7, -31.1, -35.2, -39.4,
    -33.7, -37.9, -32.4, -35.0, -31.0, -36.6, -33.3, -30.3, -36.0, -34.9,
    -32.6, -34.7, -38.1, -31.8, -33.6, -30.6, -35.2, -32.9, -29.9, -33.2,
    -31.8, -35.3, -30.6, -33.7, -28.4, -32.8, -35.9, -31.4, -36.6, -33.2,
    -29.8, -33.5, -30.9, -36.1, -32.2, -34.8, -31.5, -38.4, -33.2, -36.2,
    -31.8, -28.8, -34.6, -30.4, -36.8, -32.8, -37.1, -33.2, -35.6, -30.9,
    -33.8, -39.6, -35.0, -41.9, -34.0, -32.7, -37.3, -33.9, -30.8, -35.6,
    -32.0, -28.6, -34.6, -31.3, -33.0, -37.7, -30.1, -35.6, -32.9, -34.0,
    -31.0, -36.6, -29.6, -33.6, -31.9, -35.5, -30.0, -32.8, -37.6, -33.8,
    -31.6, -34.1, -29.1, -36.1, -31.9, -35.7, -40.4, -33.3, -30.4, -33.8,
    -31.4, -29.4, -35.0, -32.7, -30.1, -36.9, -33.2, -31.0, -35.4, -30.5,
    -33.5, -31.9, -37.2, -32.4, -35.9, -30.3, -34.1, -32.3, -39.2, -33.9,
    -31.1, -36.7, -33.6, -38.9, -31.6, -35.4, -32.5, -39.6, -36.3, -32.4,
    -34.8, -31.2, -30.1, -33.6, -29.4, -34.8, -31.1, -27.2, -32.2, -29.8,
    -32.7, -29.0, -33.5, -30.2, -34.6, -32.1, -28.9, -33.8, -30.1, -32.8,
    -30.5, -34.0, -28.5, -31.9, -29.7, -33.0, -31.4, -28.1, -32.0, -29.4,
    -26.2, -30.5, -25.3, -32.5, -28.1, -31.1, -29.3, -35.0, -30.9, -28.0,
    -29.6, -33.3, -25.2, -31.0, -27.9, -23.1, -30.4, -26.3, -29.6, -31.4,
    -28.3, -31.4, -27.9, -30.0, -24.6, -29.1, -26.7, -31.6, -28.6, -26.0,
    -27.6, -30.6, -26.4, -29.5, -25.5, -28.6, -31.8, -27.0, -24.5, -29.7,
    -26.0, -28.7, -24.2, -29.2, -27.4, -30.3, -26.1, -28.5, -25.0, -31.3,
    -27.2, -24.8, -22.7, -27.9, -25.7, -30.5, -26.1, -28.6, -24.9, -29.6,
    -27.1, -29.0, -25.6, -30.9, -28.0, -26.3, -30.6, -27.5, -33.6, -29.1,
    -32.4, -29.0, -34.5, -30.1, -33.6, -29.4, -36.1, -31.4, -28.3, -34.1,
    -30.8, -33.1, -28.0, -32.3, -30.4, -34.2, -27.8, -31.4, -33.7, -29.5,
    -28.8, -33.4, -26.0, -31.6, -29.3, -27.3, -32.0, -30.6, -28.0, -31.5,
    -29.9, -33.7, -29.1, -31.0, -27.1, -35.1, -30.9, -33.7, -28.9, -30.0,
    -32.6, -29.6, -27.3, -33.1, -30.9, -26.2, -29.9, -32.6, -30.0, -27.2,
    -29.3, -32.2, -27.9, -31.1, -25.0, -33.5, -29.8, -31.9, -27.6, -30.8,
    -28.9, -32.9, -30.9, -27.0, -31.3, -28.7, -33.4, -29.5, -26.2, -31.0,
    -29.2, -33.5, -27.9, -31.4, -29.9, -26.7, -30.2,
]

# ---------------- data: stability panels ----------------
log_tau = [3.079, 3.380, 3.681, 3.982, 4.283, 4.584, 4.885, 5.186, 5.487, 5.788]
mdev_log = [-11.48, -11.85, -12.36, -12.63, -12.80, -13.02, -13.78, -13.97, -14.10, -14.32]
mdev_labels = ["1349.1", "1419.3", "434.0", "233.7", "159.4", "95.5", "16.6", "10.6", "7.9", "4.8"]
tdev_log = [-8.628, -8.699, -8.914, -8.881, -8.745, -8.668, -9.126, -9.020, -8.847, -8.765]
tdev_labels = ["23.5", "19.9", "12.2", "13.1", "17.9", "21.5", "7.5", "9.5", "14.2", "17.1"]
mark_tau = [3.255, 3.556, 4.033, 4.334, 4.635, 4.936, 5.414, 5.782]
mark_names = ["h/2", "h", "d/8", "d/4", "d/2", "day", "ddd", "wk"]

# axis ticks / ranges
TOP_RANGE = [12.03, 88.9]
MID_RANGE = [-50.8, -16.8]
MID_TICKS = [-49.5, -45.0, -40.5, -36.0, -31.5, -27.0, -22.5, -18.0]
MDEV_RANGE = [-15.5, -10.5]
TDEV_RANGE = [-10.0, -7.5]
LOGT_TICKS = [3, 3.5, 4, 4.5, 5, 5.5, 6]
LOGT_TEXT = ["3", "", "4", "", "5", "", "6"]
MDEV_TICKS = [-15.5, -15, -14.5, -14, -13.5, -13, -12.5, -12, -11.5, -11, -10.5]
MDEV_TEXT = ["", "\u221215", "", "\u221214", "", "\u221213", "", "\u221212", "", "\u221211", ""]
TDEV_TICKS = [-10, -9.5, -9, -8.5, -8, -7.5]
TDEV_TEXT = ["\u221210", "", "\u22129", "", "\u22128", ""]

TOP_NOTE = ("_2504_CE1_PT13_CE__PT13.MEAA5_-46.198-21.254-32.134     "
            "GPS MC (x<sub>black</sub>) ,  GAL PPP (x<sub>blue</sub>)")
MID_NOTE = "Max Smoothing Residual: 2407Ep  Sigma= StdMjd"


def mjd(start, vals, step=STEP):
    return start + step * np.arange(len(vals))


def two_segments(s1, s2, offset=0.0, step=STEP):
    return np.concatenate([mjd(SEG1_START + offset, s1, step), mjd(SEG2_START + offset, s2, step)])


BLUE = "#1E90FF"
RED = "#FF0000"
XMARK = dict(symbol="x-thin", size=6, color="black", line=dict(width=1, color="black"))

fig = go.Figure()

# ---- top panel ----
fig.add_trace(go.Scatter(
    x=np.concatenate([two_segments(gps_blue_seg1, gps_blue_seg2),
                      two_segments(gps_blue2_seg1, gps_blue2_seg2, OFFSET2, STEP_B2)]),
    y=gps_blue_seg1 + gps_blue_seg2 + gps_blue2_seg1 + gps_blue2_seg2,
    mode="markers", marker=dict(symbol="square", size=3.6, color=BLUE, line=dict(width=0)),
    xaxis="x", yaxis="y", hoverinfo="skip"))
fig.add_trace(go.Scatter(
    x=np.concatenate([two_segments(gps_black_seg1, gps_black_seg2),
                      two_segments(gps_black2_seg1, gps_black2_seg2, OFFSET2)]),
    y=gps_black_seg1 + gps_black_seg2 + gps_black2_seg1 + gps_black2_seg2,
    mode="markers", marker=XMARK, xaxis="x", yaxis="y", hoverinfo="skip"))
fig.add_trace(go.Scatter(x=[60764.84], y=[16.6], mode="text", text=[TOP_NOTE],
                         textposition="middle right", cliponaxis=True,
                         textfont=dict(family=FONT, size=30, color="black", weight="bold"),
                         xaxis="x", yaxis="y", hoverinfo="skip"))

# ---- middle panel ----
fig.add_trace(go.Scatter(
    x=np.concatenate([two_segments(resid_seg1, resid_seg2),
                      two_segments(resid2_seg1, resid2_seg2, OFFSET2)]),
    y=resid_seg1 + resid_seg2 + resid2_seg1 + resid2_seg2,
    mode="markers", marker=XMARK, xaxis="x2", yaxis="y2", hoverinfo="skip"))
fig.add_trace(go.Scatter(x=[60764.88], y=[-48.7], mode="text", text=[MID_NOTE],
                         textposition="middle right", cliponaxis=True,
                         textfont=dict(family=FONT, size=25, color="black", weight="bold"),
                         xaxis="x2", yaxis="y2", hoverinfo="skip"))

# ---- bottom-left: modified Allan deviation ----
fig.add_trace(go.Scatter(x=log_tau, y=mdev_log, mode="markers",
                         marker=dict(symbol="circle", size=13, color="black"),
                         xaxis="x3", yaxis="y3", cliponaxis=True, hoverinfo="skip"))
fig.add_trace(go.Scatter(x=log_tau, y=mdev_log, mode="markers+text", text=mdev_labels,
                         textposition="top center", cliponaxis=True,
                         marker=dict(size=4, color="rgba(0,0,0,0)"),
                         textfont=dict(family=FONT, size=20, color=RED, weight="bold"),
                         xaxis="x3", yaxis="y3", hoverinfo="skip"))
fig.add_trace(go.Scatter(x=mark_tau, y=[MDEV_RANGE[0]] * len(mark_tau), mode="markers",
                         marker=dict(symbol="circle", size=9, color="black"),
                         xaxis="x3", yaxis="y3", cliponaxis=True, hoverinfo="skip"))
fig.add_trace(go.Scatter(x=mark_tau, y=[MDEV_RANGE[0]] * len(mark_tau), mode="markers+text",
                         text=mark_names, textposition="top center", cliponaxis=True,
                         marker=dict(size=5, color="rgba(0,0,0,0)"),
                         textfont=dict(family=FONT, size=20, color=RED, weight="bold"),
                         xaxis="x3", yaxis="y3", hoverinfo="skip"))

# ---- bottom-right: time deviation ----
fig.add_trace(go.Scatter(x=log_tau, y=tdev_log, mode="markers",
                         marker=dict(symbol="circle", size=12.5, color="black"),
                         xaxis="x4", yaxis="y4", cliponaxis=True, hoverinfo="skip"))
fig.add_trace(go.Scatter(x=log_tau, y=tdev_log, mode="markers+text", text=tdev_labels,
                         textposition="top center", cliponaxis=True,
                         marker=dict(size=20, color="rgba(0,0,0,0)"),
                         textfont=dict(family=FONT, size=17, color=RED, weight="bold"),
                         xaxis="x4", yaxis="y4", hoverinfo="skip"))
fig.add_trace(go.Scatter(x=mark_tau, y=[TDEV_RANGE[0]] * len(mark_tau), mode="markers",
                         marker=dict(symbol="circle", size=9, color="black"),
                         xaxis="x4", yaxis="y4", cliponaxis=True, hoverinfo="skip"))
fig.add_trace(go.Scatter(x=mark_tau, y=[TDEV_RANGE[0]] * len(mark_tau), mode="markers+text",
                         text=mark_names, textposition="top center", cliponaxis=True,
                         marker=dict(size=15, color="rgba(0,0,0,0)"),
                         textfont=dict(family=FONT, size=19, color=RED, weight="bold"),
                         xaxis="x4", yaxis="y4", hoverinfo="skip"))


def axstyle(**kw):
    d = dict(showline=True, linecolor="black", linewidth=1.5, mirror="ticks",
             ticks="outside", tickcolor="black", tickwidth=1.5, ticklen=12,
             showgrid=False, zeroline=False,
             tickfont=dict(family=FONT, size=29, color="black"))
    d.update(kw)
    return d


MJD_X = dict(range=[60764, 60796], tickmode="linear", tick0=60765, dtick=5, tickformat="d",
             ticklen=13, ticklabelstandoff=1,
             minor=dict(tick0=60765, dtick=1, ticklen=7, ticks="outside",
                        tickcolor="black", tickwidth=1.5))
SMALL_TICKFONT = dict(family=FONT, size=28, color="black")

fig.update_layout(
    width=1488, height=2105,
    margin=dict(l=0, r=0, t=0, b=0),
    paper_bgcolor="white", plot_bgcolor="white",
    showlegend=False,
    font=dict(family=FONT, color="black"),
    xaxis=axstyle(domain=[0.1091, 0.9553], anchor="y", **MJD_X),
    yaxis=axstyle(domain=[0.5989, 0.9406], anchor="x", range=TOP_RANGE,
                  tickmode="linear", tick0=0, dtick=10, ticklabelstandoff=11),
    xaxis2=axstyle(domain=[0.1091, 0.9553], anchor="y2", **MJD_X),
    yaxis2=axstyle(domain=[0.3332, 0.5470], anchor="x2", range=MID_RANGE,
                   tickmode="array", tickvals=MID_TICKS, tickformat=".1f",
                   ticklabelstandoff=11),
    xaxis3=axstyle(domain=[0.1138, 0.4761], anchor="y3", range=[3, 6],
                   tickmode="array", tickvals=LOGT_TICKS, ticktext=LOGT_TEXT,
                   ticklen=13, ticklabelstandoff=-3, tickfont=SMALL_TICKFONT),
    yaxis3=axstyle(domain=[0.0684, 0.2821], anchor="x3", range=MDEV_RANGE,
                   tickmode="array", tickvals=MDEV_TICKS, ticktext=MDEV_TEXT,
                   ticklabelstandoff=11, tickfont=SMALL_TICKFONT),
    xaxis4=axstyle(domain=[0.5736, 0.9359], anchor="y4", range=[2.75, 6],
                   tickmode="array", tickvals=LOGT_TICKS, ticktext=LOGT_TEXT,
                   ticklen=13, ticklabelstandoff=-3, tickfont=SMALL_TICKFONT),
    yaxis4=axstyle(domain=[0.0684, 0.2821], anchor="x4", range=TDEV_RANGE,
                   tickmode="array", tickvals=TDEV_TICKS, ticktext=TDEV_TEXT,
                   ticklabelstandoff=11, tickfont=SMALL_TICKFONT),
)

TITLE_FONT = dict(family=FONT, size=29, color="black", weight="bold")
ann = [
    dict(text="Modified Julian Date", x=0.5322, y=0.5648),
    dict(text="Modified Julian Date", x=0.5322, y=0.2995),
    dict(text="nanosecond", x=0.0571, y=0.7705, textangle=-90),
    dict(text="residuals (ns)", x=0.0289, y=0.4401, textangle=-90),
    dict(text="Modified Allan Deviation (10<sup>-15</sup>)", x=0.0489, y=0.1753, textangle=-90),
    dict(text="Time deviation (10<sup>-10</sup> s)", x=0.5085, y=0.1753, textangle=-90),
    dict(text="Averaging time, log(\u03c4) (s)", x=0.2950, y=0.0366),
    dict(text="Averaging time, log(\u03c4) (s)", x=0.7547, y=0.0366),
]
annotations = []
for a in ann:
    a.update(xref="paper", yref="paper", xanchor="center", yanchor="middle",
             showarrow=False, font=TITLE_FONT)
    annotations.append(a)
annotations.append(dict(text="\u03c4 = LogAllVar", x=3.248, y=-10.77, xref="x3", yref="y3",
                        xanchor="left", yanchor="middle", showarrow=False,
                        font=dict(family=FONT, size=17, color="black", weight="bold")))
fig.update_layout(annotations=annotations)

fig.write_html("out.html", config={"displayModeBar": False},
               post_script="document.body.style.margin='0';")
